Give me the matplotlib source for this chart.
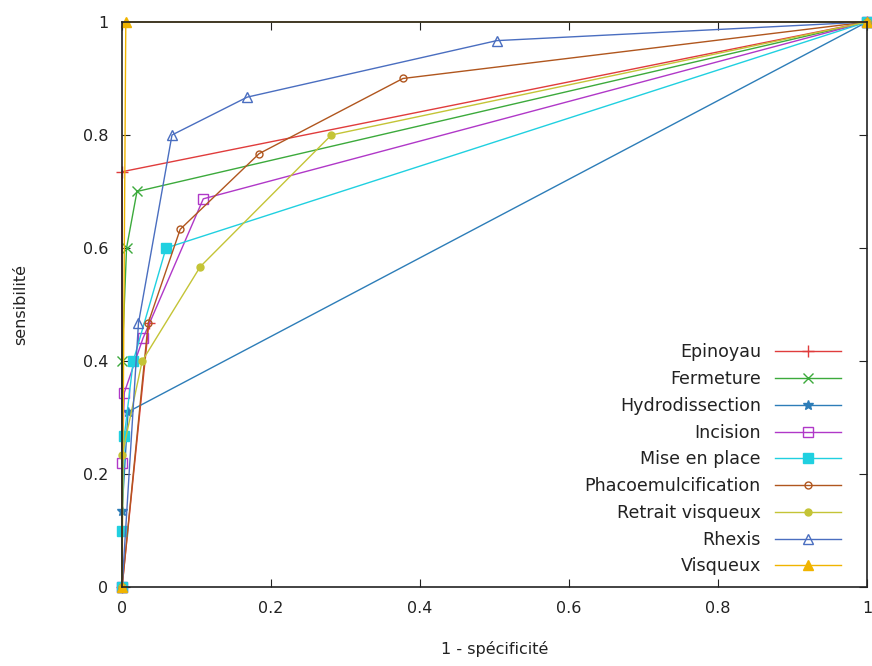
import matplotlib
matplotlib.use("Agg")
import matplotlib.pyplot as plt

# ROC points for each step (1 - specificity, sensitivity)
labels = ["Epinoyau", "Fermeture", "Hydrodissection", "Incision", "Mise en place",
          "Phacoemulcification", "Retrait visqueux", "Rhexis", "Visqueux"]

epinoyau_x = [0.036, 0, 0, 1]
epinoyau_y = [0.467, 0, 0.735, 1]
fermeture_x = [0, 0, 0.006, 0.02, 1]
fermeture_y = [0, 0.4, 0.6, 0.7, 1]
hydro_x = [0, 0, 0.008, 1]
hydro_y = [0, 0.135, 0.31, 1]
incision_x = [0, 0, 0.003, 0.028, 0.109, 1]
incision_y = [0, 0.219, 0.344, 0.44, 0.687, 1]
mise_x = [0, 0, 0.003, 0.015, 0.059, 1]
mise_y = [0, 0.1, 0.267, 0.4, 0.6, 1]
phaco_x = [0, 0.035, 0.078, 0.184, 0.377, 1]
phaco_y = [0, 0.467, 0.633, 0.767, 0.9, 1]
retrait_x = [0, 0, 0.027, 0.105, 0.281, 1]
retrait_y = [0, 0.233, 0.4, 0.567, 0.8, 1]
rhexis_x = [0, 0.022, 0.067, 0.168, 0.503, 1]
rhexis_y = [0, 0.467, 0.8, 0.867, 0.967, 1]
visqueux_x = [0, 0.005, 1]
visqueux_y = [0, 1, 1]

series = [(epinoyau_x, epinoyau_y), (fermeture_x, fermeture_y), (hydro_x, hydro_y),
          (incision_x, incision_y), (mise_x, mise_y), (phaco_x, phaco_y),
          (retrait_x, retrait_y), (rhexis_x, rhexis_y), (visqueux_x, visqueux_y)]

colors = ["#e03c3c", "#3caa3c", "#2d7db8", "#b038c8", "#20d0e0",
          "#b0561e", "#c4c436", "#4a6ec0", "#f0b400"]
# gnuplot point types: + x * open-square filled-square ring filled-circle open-tri filled-tri
markers = ["+", "x", "*", "s", "s", "o", "o", "^", "^"]
fills = [True, True, True, False, True, False, True, False, True]
sizes = [8, 7, 7, 6.5, 6.5, 5, 5, 7, 7]

fig = plt.figure(figsize=(8.72, 6.66), dpi=100)
ax = fig.add_axes([0.140, 0.1186, 0.8543, 0.8484])

for (xs, ys), lab, c, m, f, s in zip(series, labels, colors, markers, fills, sizes):
    ax.plot(xs, ys, color=c, linewidth=1, marker=m, markersize=s,
            markerfacecolor=c if f else "none", markeredgecolor=c,
            markeredgewidth=1, label=lab, clip_on=False)

ax.set_xlim(0, 1)
ax.set_ylim(0, 1)
ticks = [0, 0.2, 0.4, 0.6, 0.8, 1]
tick_labels = ["0", "0.2", "0.4", "0.6", "0.8", "1"]
ax.set_xticks(ticks)
ax.set_xticklabels(tick_labels)
ax.set_yticks(ticks)
ax.set_yticklabels(tick_labels)
ax.tick_params(direction="in", length=6, top=True, right=True, labelsize=11.5,
               colors="#222222", pad=10)
for sp in ax.spines.values():
    sp.set_linewidth(1.2)
    sp.set_color("#222222")

ax.set_xlabel("1 - spécificité", fontsize=11.5, labelpad=18, color="#222222")
ax.set_ylabel("sensibilité", fontsize=11.5, labelpad=39, color="#222222")

leg = ax.legend(loc="lower right", frameon=False, markerfirst=False, fontsize=12.6,
                handlelength=3.8, labelspacing=0.5, borderaxespad=0.0,
                bbox_to_anchor=(0.975, 0.008))
for t in leg.get_texts():
    t.set_color("#222222")

fig.savefig("out.png", dpi=100)
